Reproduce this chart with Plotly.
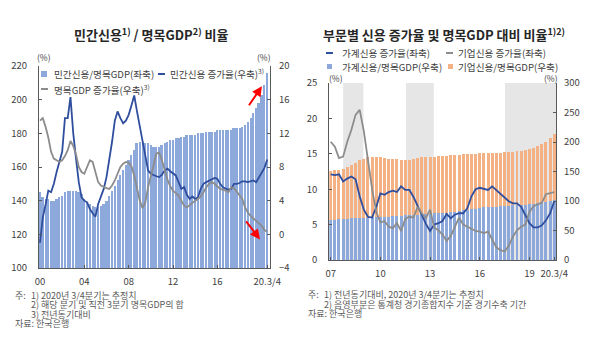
import plotly.graph_objects as go

W, H = 590, 346
FONT = "Noto Sans CJK KR, Noto Sans, sans-serif"

# ---------------- left panel: private credit / nominal GDP, 2000Q1-2020Q3 ----------------
credit_gdp_ratio = [
    145, 142, 141, 141,  140, 140, 141, 142,  143, 145, 146, 146,  146, 146, 145, 144,
    141, 139, 138, 137,  136, 136, 137, 138,  140, 143, 146, 149,  152, 155, 158, 161,
    164, 167, 170, 174,  175, 175, 174, 174,  173, 172, 172, 172,  173, 174, 175, 176,
    176, 177, 177, 178,  178, 179, 179, 179,  179, 180, 180, 180,  181, 181, 181, 181,
    182, 182, 182, 182,  182, 182, 183, 183,  183, 184, 185, 187,  189, 192, 195, 198,
    203, 209, 216,
]
credit_growth = [
    -1.0, 2.0, 3.5, 5.2, 5.0, 6.0, 7.4, 8.5, 9.8, 13.8,
    13.8, 16.3, 12.0, 9.0, 6.2, 4.4, 4.0, 3.8, 3.0, 2.5,
    2.1, 3.6, 4.6, 5.4, 6.8, 8.8, 11.0, 13.5, 14.6, 13.8,
    13.2, 13.5, 14.2, 15.3, 16.5, 14.6, 12.8, 11.0, 9.0, 7.6,
    7.2, 7.0, 6.9, 6.8, 7.1, 7.6, 7.8, 7.5, 7.3, 7.0,
    6.2, 5.4, 5.6, 4.7, 4.2, 4.5, 4.2, 4.4, 5.4, 6.0,
    6.2, 6.4, 6.6, 6.7, 6.6, 6.0, 5.6, 5.4, 5.3, 5.4,
    6.0, 6.0, 6.1, 6.3, 6.3, 6.2, 6.3, 6.4, 6.2, 6.8,
    7.4, 7.9, 8.9,
]
ngdp_growth = [
    13.5, 13.8, 12.8, 11.5, 9.8, 9.0, 8.8, 8.6, 8.8, 9.3,
    10.0, 11.1, 10.5, 9.5, 8.0, 7.4, 7.2, 8.0, 8.8, 8.6,
    7.5, 6.2, 5.8, 5.6, 5.5, 5.4, 5.8, 6.4, 7.2, 8.0,
    8.4, 8.6, 8.5, 8.1, 7.0, 5.4, 4.0, 3.1, 3.8, 5.6,
    6.8, 8.2, 9.6, 9.7, 8.8, 7.5, 6.5, 5.7, 5.2, 4.9,
    4.6, 4.0, 3.4, 3.2, 3.5, 3.8, 4.0, 4.2, 4.5, 5.0,
    5.6, 6.0, 6.2, 6.0, 5.7, 5.4, 5.3, 5.2, 5.0, 5.6,
    5.5, 5.1, 4.6, 4.2, 3.2, 2.6, 2.2, 1.9, 1.6, 1.3,
    1.0, 0.5, 0.3,
]
left_tick_idx = [0, 16, 32, 48, 64, 82]
left_tick_text = ["00", "04", "08", "12", "16", "20.3/4"]

# ---------------- right panel: by sector, 2007Q1-2020Q3 ----------------
hh_growth = [
    12.1, 12.0, 12.1, 11.1, 11.5, 11.8, 11.4, 9.0, 7.1, 6.1,
    6.0, 7.5, 9.4, 9.2, 9.6, 9.8, 9.6, 10.4, 9.9, 9.9,
    8.9, 7.6, 6.3, 5.1, 4.1, 5.0, 5.2, 5.5, 6.5, 5.9,
    6.4, 6.6, 6.6, 7.3, 9.0, 10.0, 10.2, 10.1, 9.9, 10.4,
    9.9, 9.4, 8.9, 8.3, 8.0, 8.0, 7.5, 6.3, 5.2, 4.6,
    4.6, 4.9, 5.6, 6.6, 8.3,
]
corp_growth = [
    16.7, 16.0, 14.4, 14.6, 16.7, 18.4, 20.5, 21.2, 18.2, 13.9,
    10.0, 6.8, 5.3, 5.5, 4.7, 4.5, 5.2, 4.1, 5.8, 6.1,
    6.0, 7.5, 6.6, 5.9, 7.1, 4.6, 4.2, 3.6, 2.7, 3.4,
    4.8, 6.0, 5.0, 4.7, 4.4, 4.1, 4.0, 3.8, 4.0, 3.0,
    1.8, 1.4, 1.2, 2.0, 3.3, 4.2, 4.7, 5.0, 6.8, 7.6,
    7.8, 8.1, 9.3, 9.4, 9.6,
]
hh_ratio = [
    68, 68.5, 69, 69.5,  70, 70.5, 71, 71,  71.5, 72, 72.5, 72.5,  73, 73, 73.5, 74,
    74.5, 75, 75.5, 76,  76.5, 77, 77.5, 78,  78.5, 79, 79.5, 80,  80.5, 81, 82, 83,
    84, 85, 86, 87,  88, 89, 89.5, 90,  90.5, 91, 91.5, 92,  92.5, 93, 93.5, 94,
    94.5, 95, 96, 97,  98, 99.5, 101,
]
corp_ratio = [
    83, 83.5, 84, 84.5,  87, 90.5, 94, 98,  100.5, 102, 102.5, 102.5,  101, 100, 98.5, 97,
    96.5, 95, 94.5, 94,  95.5, 96, 96.5, 97,  96.5, 96, 96.5, 96,  96.5, 97, 96, 95,
    95, 94, 94, 93,  93, 92, 92.5, 92,  91.5, 91, 91.5, 91,  90.5, 91, 91.5, 92,
    93.5, 95, 97, 99,  102, 106.5, 112,
]
right_tick_idx = [0, 12, 24, 36, 48, 54]
right_tick_text = ["07", "10", "13", "16", "19", "20.3/4"]
# business-cycle contraction periods, in quarter index units from 2007Q1
contraction_periods = [(3.0, 7.9), (18.2, 24.9), (42.1, 54.42)]

C_BAR_BLUE = "#8DA9DB"
C_BAR_ORANGE = "#F4B183"
C_LINE_BLUE = "#2F4E9E"
C_LINE_GRAY = "#8C8C8C"
C_AXIS = "#595959"
C_TEXT = "#404040"


def px(x):
    return x / W


def py(y):
    return 1 - y / H


fig = go.Figure()

# left panel
fig.add_trace(go.Bar(x=list(range(len(credit_gdp_ratio))), y=credit_gdp_ratio,
                     xaxis="x", yaxis="y", marker=dict(color=C_BAR_BLUE, line_width=0)))
fig.add_trace(go.Scatter(x=list(range(len(credit_growth))), y=credit_growth, mode="lines",
                         xaxis="x", yaxis="y2", line=dict(color=C_LINE_BLUE, width=1.8)))
fig.add_trace(go.Scatter(x=list(range(len(ngdp_growth))), y=ngdp_growth, mode="lines",
                         xaxis="x", yaxis="y2", line=dict(color=C_LINE_GRAY, width=1.8)))

# right panel
qr = list(range(len(hh_ratio)))
fig.add_trace(go.Bar(x=qr, y=hh_ratio, xaxis="x2", yaxis="y3",
                     marker=dict(color=C_BAR_BLUE, line_width=0)))
fig.add_trace(go.Bar(x=qr, y=corp_ratio, xaxis="x2", yaxis="y3",
                     marker=dict(color=C_BAR_ORANGE, line_width=0)))
fig.add_trace(go.Scatter(x=qr, y=hh_growth, mode="lines", xaxis="x2", yaxis="y4",
                         line=dict(color=C_LINE_BLUE, width=1.8)))
fig.add_trace(go.Scatter(x=qr, y=corp_growth, mode="lines", xaxis="x2", yaxis="y4",
                         line=dict(color=C_LINE_GRAY, width=1.8)))

axis_style = dict(showline=True, linecolor=C_AXIS, linewidth=1, ticks="inside", ticklen=3,
                  tickcolor=C_AXIS, showgrid=False, zeroline=False, automargin=False,
                  tickfont=dict(family=FONT, size=9.5, color=C_TEXT))

fig.update_layout(
    width=W, height=H, margin=dict(l=0, r=0, t=0, b=0, autoexpand=False),
    paper_bgcolor="white", plot_bgcolor="white",
    showlegend=False, barmode="stack", bargap=0.28,
    font=dict(family=FONT, size=9, color=C_TEXT),
    xaxis=dict(domain=[px(39), px(270)], anchor="y", range=[-0.36, 83.0],
               tickvals=left_tick_idx, ticktext=left_tick_text, ticklabelstandoff=5, **axis_style),
    yaxis=dict(domain=[py(268), py(66)], anchor="x", range=[100, 220], dtick=20, side="left",
               ticklabelstandoff=9, **axis_style),
    yaxis2=dict(overlaying="y", anchor="x", side="right", range=[-4, 20], dtick=4,
                ticklabelstandoff=6, **axis_style),
    xaxis2=dict(domain=[px(329.3), px(556)], anchor="y3", range=[-0.34, 54.42],
                tickvals=right_tick_idx, ticktext=right_tick_text, ticklabelstandoff=5, **axis_style),
    yaxis3=dict(domain=[py(260), py(83)], anchor="x2", side="right", range=[0, 300], dtick=50,
                ticklabelstandoff=5, **axis_style),
    yaxis4=dict(overlaying="y3", anchor="x2", side="left", range=[0, 25], dtick=5,
                ticklabelstandoff=9, **axis_style),
)

shapes = []
for a, b in contraction_periods:
    shapes.append(dict(type="rect", xref="x2", yref="y3 domain", x0=a, x1=b, y0=0, y1=1,
                       fillcolor="#E7E6E6", line_width=0, layer="below"))


def legend_line(x0, x1, y, color):
    shapes.append(dict(type="line", xref="paper", yref="paper", x0=px(x0), x1=px(x1),
                       y0=py(y), y1=py(y), line=dict(color=color, width=2)))


def legend_box(x0, x1, y, color):
    h = (x1 - x0) / 2
    shapes.append(dict(type="rect", xref="paper", yref="paper", x0=px(x0), x1=px(x1),
                       y0=py(y + h), y1=py(y - h), fillcolor=color, line_width=0))


annotations = []


def text(x, y, s, size=9.6, color=C_TEXT, anchor="left"):
    annotations.append(dict(xref="paper", yref="paper", x=px(x), y=py(y), text=s,
                            showarrow=False, xanchor=anchor, yanchor="middle",
                            font=dict(family=FONT, size=size, color=color)))


# titles
text(151, 34, "<b>민간신용<sup>1)</sup> / 명목GDP<sup>2)</sup> 비율</b>", size=13, color="#262626", anchor="center")
text(444, 34, "<b>부문별 신용 증가율 및 명목GDP 대비 비율<sup>1)2)</sup></b>", size=13, color="#262626", anchor="center")

# unit labels
text(43.5, 57, "(%)", size=8.5, anchor="center")
text(264, 57, "(%)", size=8.5, anchor="center")
text(336, 77.5, "(%)", size=8.5, anchor="center")
text(551, 77.5, "(%)", size=8.5, anchor="center")

# left legend
legend_box(41, 47, 74, C_BAR_BLUE)
text(52, 74, "민간신용/명목GDP(좌축)")
legend_line(158, 165, 74, C_LINE_BLUE)
text(168, 74, "민간신용 증가율(우축)<sup>3)</sup>")
legend_line(41, 48, 89, C_LINE_GRAY)
text(52, 89, "명목GDP 증가율(우축)<sup>3)</sup>")

# right legend
legend_line(326, 333, 53, C_LINE_BLUE)
text(340, 53, "가계신용 증가율(좌축)")
legend_line(446, 453, 53, C_LINE_GRAY)
text(456, 53, "기업신용 증가율(좌축)")
legend_box(327, 332, 66.5, C_BAR_BLUE)
text(340, 66.5, "가계신용/명목GDP(우축)")
legend_box(448, 453, 66.5, C_BAR_ORANGE)
text(456, 66.5, "기업신용/명목GDP(우축)")

# footnotes
NOTE = "#595959"
FN = 9
text(12.5, 295, "주:", size=FN, color=NOTE)
text(29, 295, "1) 2020년 3/4분기는 추정치", size=FN, color=NOTE)
text(29, 304.5, "2) 해당 분기 및 직전 3분기 명목GDP의 합", size=FN, color=NOTE)
text(29, 314, "3) 전년동기대비", size=FN, color=NOTE)
text(12.5, 323.5, "자료: 한국은행", size=FN, color=NOTE)
text(306, 294.5, "주:", size=FN, color=NOTE)
text(321.5, 294.5, "1) 전년동기대비, 2020년 3/4분기는 추정치", size=FN, color=NOTE)
text(321.5, 304, "2) 음영부분은 통계청 경기종합지수 기준 경기수축 기간", size=FN, color=NOTE)
text(306, 313.5, "자료: 한국은행", size=FN, color=NOTE)

# red arrows: ratio surging, nominal GDP growth sinking
for x, y, ax, ay in [(80.1, 17.6, -14, 20.5), (79.4, -0.6, -15, -19.5)]:
    annotations.append(dict(xref="x", yref="y2", x=x, y=y, ax=ax, ay=ay, text="",
                            showarrow=True, arrowhead=2, arrowsize=1, arrowwidth=2,
                            arrowcolor="#FF0000"))

fig.update_layout(shapes=shapes, annotations=annotations)
fig.write_html("out.html")
